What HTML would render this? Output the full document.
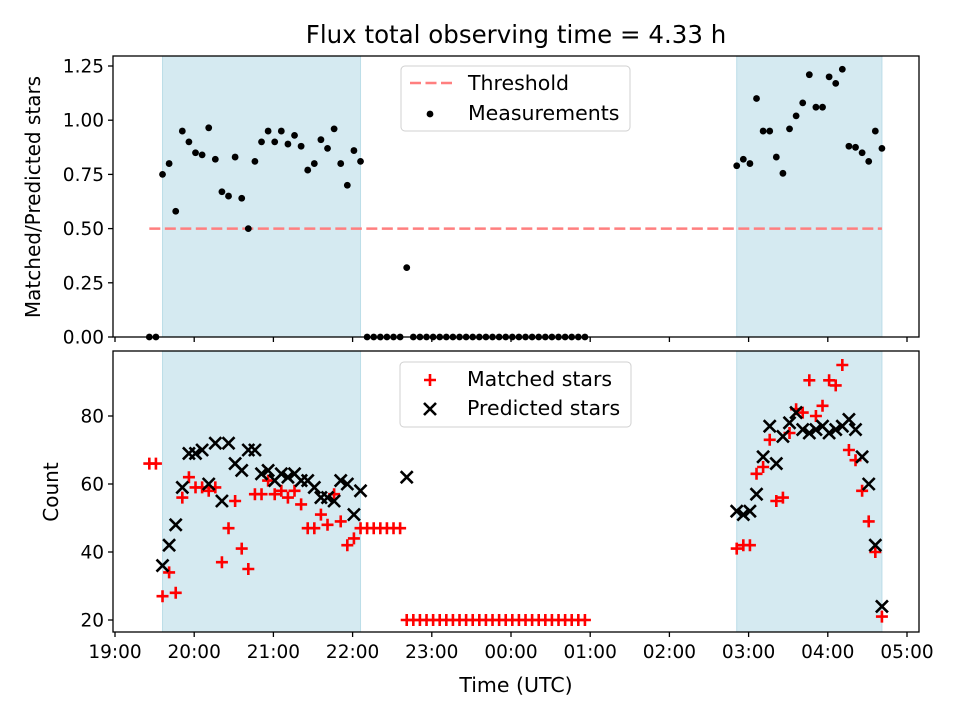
<!DOCTYPE html>
<html><head><meta charset="utf-8">
<style>
body{margin:0;background:#fff;}
svg{display:block;font-family:"DejaVu Sans","Liberation Sans",sans-serif;}
</style></head>
<body>
<svg id="chart" width="960" height="720" viewBox="0 0 960 720" xmlns="http://www.w3.org/2000/svg">
<rect width="960" height="720" fill="#fff"/>
<text x="516" y="43" font-size="24.5" text-anchor="middle" fill="#000">Flux total observing time = 4.33 h</text>
<g id="top"></g>
<g id="bot"></g>
<text x="516" y="692" font-size="20.5" text-anchor="middle">Time (UTC)</text>
<text transform="translate(40,197) rotate(-90)" font-size="20" text-anchor="middle">Matched/Predicted stars</text>
<text transform="translate(58,492) rotate(-90)" font-size="20" text-anchor="middle">Count</text>
</svg>
<script>
// minutes after 19:00 UTC
const times = [26,31,
36,41,46,51,56,61,66,71,76,81,86,91,96,101,106,111,116,121,126,131,136,141,146,151,156,161,166,171,176,181,186,
191,196,201,206,211,216,
221,
226,231,236,241,246,251,256,261,266,271,276,281,286,291,296,301,306,311,316,321,326,331,336,341,346,351,356,
471,476,481,486,491,496,501,506,511,516,521,526,531,536,541,546,551,556,561,566,571,576,581];
const ratio = [0,0,
0.75,0.80,0.58,0.95,0.90,0.85,0.84,0.965,0.82,0.67,0.65,0.83,0.64,0.50,0.81,0.90,0.95,0.90,0.95,0.89,0.93,0.88,0.77,0.80,0.91,0.87,0.96,0.80,0.70,0.86,0.81,
0,0,0,0,0,0,
0.32,
0,0,0,0,0,0,0,0,0,0,0,0,0,0,0,0,0,0,0,0,0,0,0,0,0,0,0,
0.79,0.82,0.80,1.10,0.95,0.95,0.83,0.755,0.96,1.02,1.08,1.21,1.06,1.06,1.20,1.17,1.235,0.88,0.875,0.85,0.81,0.95,0.87];
const matched = [66,66,
27,34,28,56,62,59,59,58,59,37,47,55,41,35,57,57,61,57,58,56,58,54,47,47,51,48,57,49,42,44,47,
47,47,47,47,47,47,
20,
20,20,20,20,20,20,20,20,20,20,20,20,20,20,20,20,20,20,20,20,20,20,20,20,20,20,20,
41,42,42,63,65,73,55,56,75,82,81,90.5,80,83,90.5,89,95,70,67,58,49,40,21];
const predicted = [null,null,
36,42,48,59,69,69,70,60,72,55,72,66,64,70,70,63,64,61,63,62,63,61,61,59,56,56,55,61,60,51,58,
null,null,null,null,null,null,
62,
null,null,null,null,null,null,null,null,null,null,null,null,null,null,null,null,null,null,null,null,null,null,null,null,null,null,null,
52,51,52,57,68,77,66,74,78,81,76,75,76,77,75,76,77,79,76,68,60,42,24];
const spans = [[36,186],[471,581]];
const threshold = 0.5;
const xTickMins = [0,60,120,180,240,300,360,420,480,540,600];
const xTickLabels = ["19:00","20:00","21:00","22:00","23:00","00:00","01:00","02:00","03:00","04:00","05:00"];
const topTicks = [0,0.25,0.5,0.75,1.0,1.25];
const topTickLabels = ["0.00","0.25","0.50","0.75","1.00","1.25"];
const botTicks = [20,40,60,80];

const NS="http://www.w3.org/2000/svg";
const L=113,R=919,T1=56,B1=337,T2=351,B2=632;
const FS=18.5, LFS=20.5;
const xs=m=>115+(m-0)*1.32;
const yTop=v=>337-v*216.8;
const yBot=c=>620-(c-20)*3.4;
function mk(parent,tag,attrs){const e=document.createElementNS(NS,tag);for(const k in attrs)e.setAttribute(k,attrs[k]);parent.appendChild(e);return e;}
const gt=document.getElementById('top'),gb=document.getElementById('bot');

function spanRects(g,top,bot){
  spans.forEach((s,i)=>{
    const r=mk(g,'rect',{x:xs(s[0]),y:top,width:xs(s[1])-xs(s[0]),height:bot-top,fill:'#d5eaf1',stroke:'#bcdde8','stroke-width':1});
    
    
  });
}
spanRects(gt,T1,B1);spanRects(gb,T2,B2);

const th=mk(gt,'line',{x1:xs(times[0]),x2:xs(spans[1][1]),y1:yTop(threshold),y2:yTop(threshold),stroke:'#ff7f7f','stroke-width':2.5,'stroke-dasharray':'11,4.5'});



times.forEach((t,i)=>{
  const c=mk(gt,'circle',{cx:xs(t),cy:yTop(ratio[i]),r:3.4,fill:'#000'});
  
  
});

function plus(g,x,y){
  return mk(g,'path',{d:`M${x-6},${y}H${x+6}M${x},${y-6}V${y+6}`,stroke:'#ff0000','stroke-width':2.6,fill:'none'});
}
function cross(g,x,y){
  return mk(g,'path',{d:`M${x-6},${y-6}L${x+6},${y+6}M${x-6},${y+6}L${x+6},${y-6}`,stroke:'#000','stroke-width':2.6,fill:'none'});
}
times.forEach((t,i)=>{
  const p=plus(gb,xs(t),yBot(matched[i]));
  
  
});
times.forEach((t,i)=>{
  if(predicted[i]===null)return;
  const p=cross(gb,xs(t),yBot(predicted[i]));
  
  
});

[[T1,B1,gt],[T2,B2,gb]].forEach(([t,b,g],k)=>{
  const r=mk(g,'rect',{x:L,y:t,width:R-L,height:b-t,fill:'none',stroke:'#000','stroke-width':1.3});
  
  
  xTickMins.forEach((m,i)=>{
    mk(g,'line',{x1:xs(m),x2:xs(m),y1:b,y2:b+5,stroke:'#000','stroke-width':1.3});
    if(k){
      const tx=mk(g,'text',{x:xs(m),y:b+26,'font-size':FS,'text-anchor':'middle'});
      tx.textContent=xTickLabels[i];
      
      
    }
  });
});
topTicks.forEach((v,i)=>{
  const y=yTop(v);
  mk(gt,'line',{x1:L-5,x2:L,y1:y,y2:y,stroke:'#000','stroke-width':1.3});
  const tx=mk(gt,'text',{x:L-9,y:y+6.5,'font-size':FS,'text-anchor':'end'});
  tx.textContent=topTickLabels[i];
  
  
});
botTicks.forEach(v=>{
  const y=yBot(v);
  mk(gb,'line',{x1:L-5,x2:L,y1:y,y2:y,stroke:'#000','stroke-width':1.3});
  const tx=mk(gb,'text',{x:L-9,y:y+6.5,'font-size':FS,'text-anchor':'end'});
  tx.textContent=String(v);
  
  
});

const lg1=mk(gt,'g',{});


mk(lg1,'rect',{x:401,y:66,width:229,height:65,rx:4,fill:'#fff','fill-opacity':0.8,stroke:'#d0d0d0'});
mk(lg1,'line',{x1:410,x2:452,y1:83,y2:83,stroke:'#ff7f7f','stroke-width':2.5,'stroke-dasharray':'11,4.5'});
let t=mk(lg1,'text',{x:468,y:90,'font-size':LFS});t.textContent='Threshold';
mk(lg1,'circle',{cx:430,cy:114,r:3.4,fill:'#000'});
t=mk(lg1,'text',{x:468,y:120,'font-size':LFS});t.textContent='Measurements';

const lg2=mk(gb,'g',{});


mk(lg2,'rect',{x:400,y:362,width:231,height:65,rx:4,fill:'#fff','fill-opacity':0.8,stroke:'#d0d0d0'});
plus(lg2,430,380);
t=mk(lg2,'text',{x:467,y:386,'font-size':LFS});t.textContent='Matched stars';
cross(lg2,430,409);
t=mk(lg2,'text',{x:467,y:415,'font-size':LFS});t.textContent='Predicted stars';
</script>
</body></html>
